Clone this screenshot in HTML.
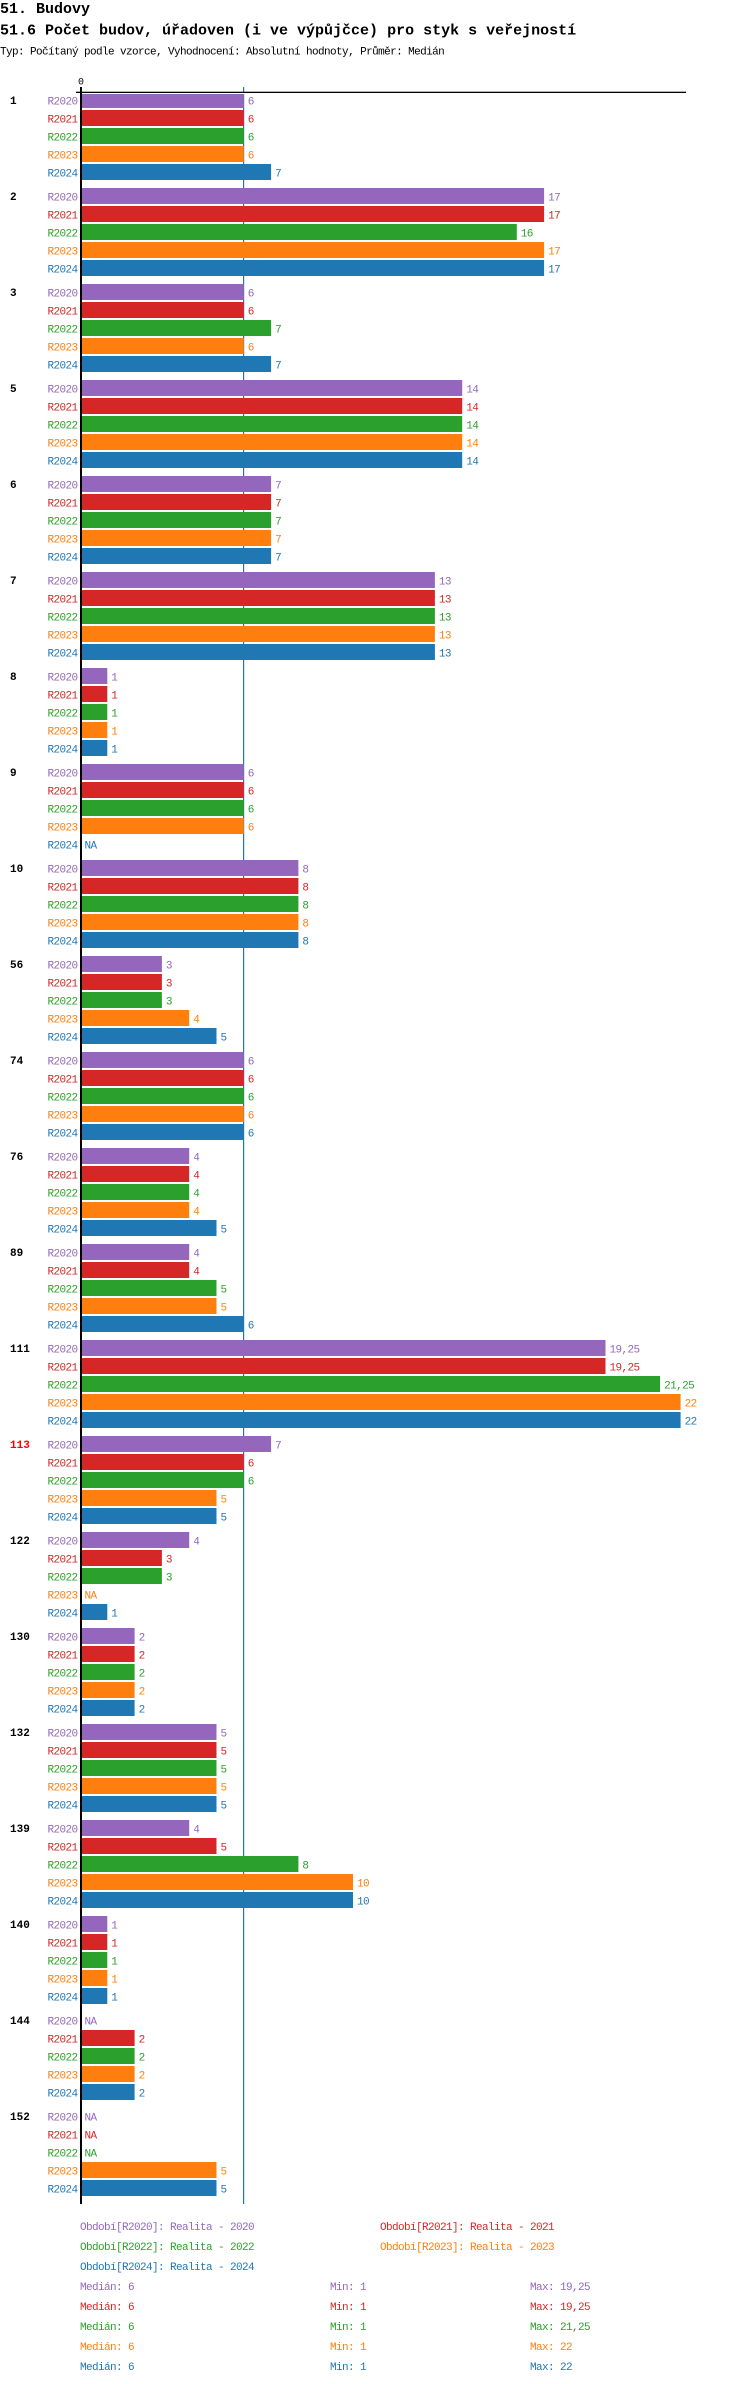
<!DOCTYPE html>
<html><head><meta charset="utf-8">
<style>
html,body{margin:0;padding:0;background:#fff;}
svg{display:block;}
text{font-family:"Liberation Mono",monospace;font-size:11px;letter-spacing:-0.6px;}
.h1{font-size:15px;font-weight:bold;letter-spacing:0;fill:#000;}
.sub{fill:#000;}
.g{font-weight:bold;font-size:11px;letter-spacing:0;fill:#000;}
.s{text-anchor:end;}
.p{fill:#9467bd}.r{fill:#d62728}.gr{fill:#2ca02c}.o{fill:#ff7f0e}.b{fill:#1f77b4}
</style></head><body>
<svg width="750" height="2384" xmlns="http://www.w3.org/2000/svg">
<text class="h1" x="0" y="13">51. Budovy</text>
<text class="h1" x="0" y="34.5">51.6 Počet budov, úřadoven (i ve výpůjčce) pro styk s veřejností</text>
<text class="sub" x="0" y="54.5">Typ: Počítaný podle vzorce, Vyhodnocení: Absolutní hodnoty, Průměr: Medián</text>
<text x="81" y="84.5" style="font-size:10px;text-anchor:middle;letter-spacing:0">0</text>
<rect x="243" y="87" width="1.2" height="2117" fill="#1f77b4"/>

<g transform="translate(0,92)">
<rect class="p" x="80" y="0" width="163.8" height="16"/><rect class="r" x="80" y="18" width="163.8" height="16"/><rect class="gr" x="80" y="36" width="163.8" height="16"/><rect class="o" x="80" y="54" width="163.8" height="16"/><rect class="b" x="80" y="72" width="191.1" height="16"/>
<text class="g" x="10" y="12">1</text>
<text class="s p" x="77.5" y="12.5">R2020</text><text class="s r" x="77.5" y="30.5">R2021</text><text class="s gr" x="77.5" y="48.5">R2022</text><text class="s o" x="77.5" y="66.5">R2023</text><text class="s b" x="77.5" y="84.5">R2024</text>
<text class="p" x="247.8" y="12.5">6</text><text class="r" x="247.8" y="30.5">6</text><text class="gr" x="247.8" y="48.5">6</text><text class="o" x="247.8" y="66.5">6</text><text class="b" x="275.1" y="84.5">7</text>
</g>
<rect x="81" y="92.5" width="620" height="1.5" fill="#fff"/>

<g transform="translate(0,188)">
<rect class="p" x="80" y="0" width="464.1" height="16"/><rect class="r" x="80" y="18" width="464.1" height="16"/><rect class="gr" x="80" y="36" width="436.8" height="16"/><rect class="o" x="80" y="54" width="464.1" height="16"/><rect class="b" x="80" y="72" width="464.1" height="16"/>
<text class="g" x="10" y="12">2</text>
<text class="s p" x="77.5" y="12.5">R2020</text><text class="s r" x="77.5" y="30.5">R2021</text><text class="s gr" x="77.5" y="48.5">R2022</text><text class="s o" x="77.5" y="66.5">R2023</text><text class="s b" x="77.5" y="84.5">R2024</text>
<text class="p" x="548.1" y="12.5">17</text><text class="r" x="548.1" y="30.5">17</text><text class="gr" x="520.8" y="48.5">16</text><text class="o" x="548.1" y="66.5">17</text><text class="b" x="548.1" y="84.5">17</text>
</g>

<g transform="translate(0,284)">
<rect class="p" x="80" y="0" width="163.8" height="16"/><rect class="r" x="80" y="18" width="163.8" height="16"/><rect class="gr" x="80" y="36" width="191.1" height="16"/><rect class="o" x="80" y="54" width="163.8" height="16"/><rect class="b" x="80" y="72" width="191.1" height="16"/>
<text class="g" x="10" y="12">3</text>
<text class="s p" x="77.5" y="12.5">R2020</text><text class="s r" x="77.5" y="30.5">R2021</text><text class="s gr" x="77.5" y="48.5">R2022</text><text class="s o" x="77.5" y="66.5">R2023</text><text class="s b" x="77.5" y="84.5">R2024</text>
<text class="p" x="247.8" y="12.5">6</text><text class="r" x="247.8" y="30.5">6</text><text class="gr" x="275.1" y="48.5">7</text><text class="o" x="247.8" y="66.5">6</text><text class="b" x="275.1" y="84.5">7</text>
</g>

<g transform="translate(0,380)">
<rect class="p" x="80" y="0" width="382.2" height="16"/><rect class="r" x="80" y="18" width="382.2" height="16"/><rect class="gr" x="80" y="36" width="382.2" height="16"/><rect class="o" x="80" y="54" width="382.2" height="16"/><rect class="b" x="80" y="72" width="382.2" height="16"/>
<text class="g" x="10" y="12">5</text>
<text class="s p" x="77.5" y="12.5">R2020</text><text class="s r" x="77.5" y="30.5">R2021</text><text class="s gr" x="77.5" y="48.5">R2022</text><text class="s o" x="77.5" y="66.5">R2023</text><text class="s b" x="77.5" y="84.5">R2024</text>
<text class="p" x="466.2" y="12.5">14</text><text class="r" x="466.2" y="30.5">14</text><text class="gr" x="466.2" y="48.5">14</text><text class="o" x="466.2" y="66.5">14</text><text class="b" x="466.2" y="84.5">14</text>
</g>

<g transform="translate(0,476)">
<rect class="p" x="80" y="0" width="191.1" height="16"/><rect class="r" x="80" y="18" width="191.1" height="16"/><rect class="gr" x="80" y="36" width="191.1" height="16"/><rect class="o" x="80" y="54" width="191.1" height="16"/><rect class="b" x="80" y="72" width="191.1" height="16"/>
<text class="g" x="10" y="12">6</text>
<text class="s p" x="77.5" y="12.5">R2020</text><text class="s r" x="77.5" y="30.5">R2021</text><text class="s gr" x="77.5" y="48.5">R2022</text><text class="s o" x="77.5" y="66.5">R2023</text><text class="s b" x="77.5" y="84.5">R2024</text>
<text class="p" x="275.1" y="12.5">7</text><text class="r" x="275.1" y="30.5">7</text><text class="gr" x="275.1" y="48.5">7</text><text class="o" x="275.1" y="66.5">7</text><text class="b" x="275.1" y="84.5">7</text>
</g>

<g transform="translate(0,572)">
<rect class="p" x="80" y="0" width="354.9" height="16"/><rect class="r" x="80" y="18" width="354.9" height="16"/><rect class="gr" x="80" y="36" width="354.9" height="16"/><rect class="o" x="80" y="54" width="354.9" height="16"/><rect class="b" x="80" y="72" width="354.9" height="16"/>
<text class="g" x="10" y="12">7</text>
<text class="s p" x="77.5" y="12.5">R2020</text><text class="s r" x="77.5" y="30.5">R2021</text><text class="s gr" x="77.5" y="48.5">R2022</text><text class="s o" x="77.5" y="66.5">R2023</text><text class="s b" x="77.5" y="84.5">R2024</text>
<text class="p" x="438.9" y="12.5">13</text><text class="r" x="438.9" y="30.5">13</text><text class="gr" x="438.9" y="48.5">13</text><text class="o" x="438.9" y="66.5">13</text><text class="b" x="438.9" y="84.5">13</text>
</g>

<g transform="translate(0,668)">
<rect class="p" x="80" y="0" width="27.3" height="16"/><rect class="r" x="80" y="18" width="27.3" height="16"/><rect class="gr" x="80" y="36" width="27.3" height="16"/><rect class="o" x="80" y="54" width="27.3" height="16"/><rect class="b" x="80" y="72" width="27.3" height="16"/>
<text class="g" x="10" y="12">8</text>
<text class="s p" x="77.5" y="12.5">R2020</text><text class="s r" x="77.5" y="30.5">R2021</text><text class="s gr" x="77.5" y="48.5">R2022</text><text class="s o" x="77.5" y="66.5">R2023</text><text class="s b" x="77.5" y="84.5">R2024</text>
<text class="p" x="111.3" y="12.5">1</text><text class="r" x="111.3" y="30.5">1</text><text class="gr" x="111.3" y="48.5">1</text><text class="o" x="111.3" y="66.5">1</text><text class="b" x="111.3" y="84.5">1</text>
</g>

<g transform="translate(0,764)">
<rect class="p" x="80" y="0" width="163.8" height="16"/><rect class="r" x="80" y="18" width="163.8" height="16"/><rect class="gr" x="80" y="36" width="163.8" height="16"/><rect class="o" x="80" y="54" width="163.8" height="16"/>
<text class="g" x="10" y="12">9</text>
<text class="s p" x="77.5" y="12.5">R2020</text><text class="s r" x="77.5" y="30.5">R2021</text><text class="s gr" x="77.5" y="48.5">R2022</text><text class="s o" x="77.5" y="66.5">R2023</text><text class="s b" x="77.5" y="84.5">R2024</text>
<text class="p" x="247.8" y="12.5">6</text><text class="r" x="247.8" y="30.5">6</text><text class="gr" x="247.8" y="48.5">6</text><text class="o" x="247.8" y="66.5">6</text><text class="b" x="84.5" y="84.5">NA</text>
</g>

<g transform="translate(0,860)">
<rect class="p" x="80" y="0" width="218.4" height="16"/><rect class="r" x="80" y="18" width="218.4" height="16"/><rect class="gr" x="80" y="36" width="218.4" height="16"/><rect class="o" x="80" y="54" width="218.4" height="16"/><rect class="b" x="80" y="72" width="218.4" height="16"/>
<text class="g" x="10" y="12">10</text>
<text class="s p" x="77.5" y="12.5">R2020</text><text class="s r" x="77.5" y="30.5">R2021</text><text class="s gr" x="77.5" y="48.5">R2022</text><text class="s o" x="77.5" y="66.5">R2023</text><text class="s b" x="77.5" y="84.5">R2024</text>
<text class="p" x="302.4" y="12.5">8</text><text class="r" x="302.4" y="30.5">8</text><text class="gr" x="302.4" y="48.5">8</text><text class="o" x="302.4" y="66.5">8</text><text class="b" x="302.4" y="84.5">8</text>
</g>

<g transform="translate(0,956)">
<rect class="p" x="80" y="0" width="81.9" height="16"/><rect class="r" x="80" y="18" width="81.9" height="16"/><rect class="gr" x="80" y="36" width="81.9" height="16"/><rect class="o" x="80" y="54" width="109.2" height="16"/><rect class="b" x="80" y="72" width="136.5" height="16"/>
<text class="g" x="10" y="12">56</text>
<text class="s p" x="77.5" y="12.5">R2020</text><text class="s r" x="77.5" y="30.5">R2021</text><text class="s gr" x="77.5" y="48.5">R2022</text><text class="s o" x="77.5" y="66.5">R2023</text><text class="s b" x="77.5" y="84.5">R2024</text>
<text class="p" x="165.9" y="12.5">3</text><text class="r" x="165.9" y="30.5">3</text><text class="gr" x="165.9" y="48.5">3</text><text class="o" x="193.2" y="66.5">4</text><text class="b" x="220.5" y="84.5">5</text>
</g>

<g transform="translate(0,1052)">
<rect class="p" x="80" y="0" width="163.8" height="16"/><rect class="r" x="80" y="18" width="163.8" height="16"/><rect class="gr" x="80" y="36" width="163.8" height="16"/><rect class="o" x="80" y="54" width="163.8" height="16"/><rect class="b" x="80" y="72" width="163.8" height="16"/>
<text class="g" x="10" y="12">74</text>
<text class="s p" x="77.5" y="12.5">R2020</text><text class="s r" x="77.5" y="30.5">R2021</text><text class="s gr" x="77.5" y="48.5">R2022</text><text class="s o" x="77.5" y="66.5">R2023</text><text class="s b" x="77.5" y="84.5">R2024</text>
<text class="p" x="247.8" y="12.5">6</text><text class="r" x="247.8" y="30.5">6</text><text class="gr" x="247.8" y="48.5">6</text><text class="o" x="247.8" y="66.5">6</text><text class="b" x="247.8" y="84.5">6</text>
</g>

<g transform="translate(0,1148)">
<rect class="p" x="80" y="0" width="109.2" height="16"/><rect class="r" x="80" y="18" width="109.2" height="16"/><rect class="gr" x="80" y="36" width="109.2" height="16"/><rect class="o" x="80" y="54" width="109.2" height="16"/><rect class="b" x="80" y="72" width="136.5" height="16"/>
<text class="g" x="10" y="12">76</text>
<text class="s p" x="77.5" y="12.5">R2020</text><text class="s r" x="77.5" y="30.5">R2021</text><text class="s gr" x="77.5" y="48.5">R2022</text><text class="s o" x="77.5" y="66.5">R2023</text><text class="s b" x="77.5" y="84.5">R2024</text>
<text class="p" x="193.2" y="12.5">4</text><text class="r" x="193.2" y="30.5">4</text><text class="gr" x="193.2" y="48.5">4</text><text class="o" x="193.2" y="66.5">4</text><text class="b" x="220.5" y="84.5">5</text>
</g>

<g transform="translate(0,1244)">
<rect class="p" x="80" y="0" width="109.2" height="16"/><rect class="r" x="80" y="18" width="109.2" height="16"/><rect class="gr" x="80" y="36" width="136.5" height="16"/><rect class="o" x="80" y="54" width="136.5" height="16"/><rect class="b" x="80" y="72" width="163.8" height="16"/>
<text class="g" x="10" y="12">89</text>
<text class="s p" x="77.5" y="12.5">R2020</text><text class="s r" x="77.5" y="30.5">R2021</text><text class="s gr" x="77.5" y="48.5">R2022</text><text class="s o" x="77.5" y="66.5">R2023</text><text class="s b" x="77.5" y="84.5">R2024</text>
<text class="p" x="193.2" y="12.5">4</text><text class="r" x="193.2" y="30.5">4</text><text class="gr" x="220.5" y="48.5">5</text><text class="o" x="220.5" y="66.5">5</text><text class="b" x="247.8" y="84.5">6</text>
</g>

<g transform="translate(0,1340)">
<rect class="p" x="80" y="0" width="525.5" height="16"/><rect class="r" x="80" y="18" width="525.5" height="16"/><rect class="gr" x="80" y="36" width="580.1" height="16"/><rect class="o" x="80" y="54" width="600.6" height="16"/><rect class="b" x="80" y="72" width="600.6" height="16"/>
<text class="g" x="10" y="12">111</text>
<text class="s p" x="77.5" y="12.5">R2020</text><text class="s r" x="77.5" y="30.5">R2021</text><text class="s gr" x="77.5" y="48.5">R2022</text><text class="s o" x="77.5" y="66.5">R2023</text><text class="s b" x="77.5" y="84.5">R2024</text>
<text class="p" x="609.5" y="12.5">19,25</text><text class="r" x="609.5" y="30.5">19,25</text><text class="gr" x="664.1" y="48.5">21,25</text><text class="o" x="684.6" y="66.5">22</text><text class="b" x="684.6" y="84.5">22</text>
</g>

<g transform="translate(0,1436)">
<rect class="p" x="80" y="0" width="191.1" height="16"/><rect class="r" x="80" y="18" width="163.8" height="16"/><rect class="gr" x="80" y="36" width="163.8" height="16"/><rect class="o" x="80" y="54" width="136.5" height="16"/><rect class="b" x="80" y="72" width="136.5" height="16"/>
<text class="g" x="10" y="12" style="fill:#ff0000">113</text>
<text class="s p" x="77.5" y="12.5">R2020</text><text class="s r" x="77.5" y="30.5">R2021</text><text class="s gr" x="77.5" y="48.5">R2022</text><text class="s o" x="77.5" y="66.5">R2023</text><text class="s b" x="77.5" y="84.5">R2024</text>
<text class="p" x="275.1" y="12.5">7</text><text class="r" x="247.8" y="30.5">6</text><text class="gr" x="247.8" y="48.5">6</text><text class="o" x="220.5" y="66.5">5</text><text class="b" x="220.5" y="84.5">5</text>
</g>

<g transform="translate(0,1532)">
<rect class="p" x="80" y="0" width="109.2" height="16"/><rect class="r" x="80" y="18" width="81.9" height="16"/><rect class="gr" x="80" y="36" width="81.9" height="16"/><rect class="b" x="80" y="72" width="27.3" height="16"/>
<text class="g" x="10" y="12">122</text>
<text class="s p" x="77.5" y="12.5">R2020</text><text class="s r" x="77.5" y="30.5">R2021</text><text class="s gr" x="77.5" y="48.5">R2022</text><text class="s o" x="77.5" y="66.5">R2023</text><text class="s b" x="77.5" y="84.5">R2024</text>
<text class="p" x="193.2" y="12.5">4</text><text class="r" x="165.9" y="30.5">3</text><text class="gr" x="165.9" y="48.5">3</text><text class="o" x="84.5" y="66.5">NA</text><text class="b" x="111.3" y="84.5">1</text>
</g>

<g transform="translate(0,1628)">
<rect class="p" x="80" y="0" width="54.6" height="16"/><rect class="r" x="80" y="18" width="54.6" height="16"/><rect class="gr" x="80" y="36" width="54.6" height="16"/><rect class="o" x="80" y="54" width="54.6" height="16"/><rect class="b" x="80" y="72" width="54.6" height="16"/>
<text class="g" x="10" y="12">130</text>
<text class="s p" x="77.5" y="12.5">R2020</text><text class="s r" x="77.5" y="30.5">R2021</text><text class="s gr" x="77.5" y="48.5">R2022</text><text class="s o" x="77.5" y="66.5">R2023</text><text class="s b" x="77.5" y="84.5">R2024</text>
<text class="p" x="138.6" y="12.5">2</text><text class="r" x="138.6" y="30.5">2</text><text class="gr" x="138.6" y="48.5">2</text><text class="o" x="138.6" y="66.5">2</text><text class="b" x="138.6" y="84.5">2</text>
</g>

<g transform="translate(0,1724)">
<rect class="p" x="80" y="0" width="136.5" height="16"/><rect class="r" x="80" y="18" width="136.5" height="16"/><rect class="gr" x="80" y="36" width="136.5" height="16"/><rect class="o" x="80" y="54" width="136.5" height="16"/><rect class="b" x="80" y="72" width="136.5" height="16"/>
<text class="g" x="10" y="12">132</text>
<text class="s p" x="77.5" y="12.5">R2020</text><text class="s r" x="77.5" y="30.5">R2021</text><text class="s gr" x="77.5" y="48.5">R2022</text><text class="s o" x="77.5" y="66.5">R2023</text><text class="s b" x="77.5" y="84.5">R2024</text>
<text class="p" x="220.5" y="12.5">5</text><text class="r" x="220.5" y="30.5">5</text><text class="gr" x="220.5" y="48.5">5</text><text class="o" x="220.5" y="66.5">5</text><text class="b" x="220.5" y="84.5">5</text>
</g>

<g transform="translate(0,1820)">
<rect class="p" x="80" y="0" width="109.2" height="16"/><rect class="r" x="80" y="18" width="136.5" height="16"/><rect class="gr" x="80" y="36" width="218.4" height="16"/><rect class="o" x="80" y="54" width="273" height="16"/><rect class="b" x="80" y="72" width="273" height="16"/>
<text class="g" x="10" y="12">139</text>
<text class="s p" x="77.5" y="12.5">R2020</text><text class="s r" x="77.5" y="30.5">R2021</text><text class="s gr" x="77.5" y="48.5">R2022</text><text class="s o" x="77.5" y="66.5">R2023</text><text class="s b" x="77.5" y="84.5">R2024</text>
<text class="p" x="193.2" y="12.5">4</text><text class="r" x="220.5" y="30.5">5</text><text class="gr" x="302.4" y="48.5">8</text><text class="o" x="357" y="66.5">10</text><text class="b" x="357" y="84.5">10</text>
</g>

<g transform="translate(0,1916)">
<rect class="p" x="80" y="0" width="27.3" height="16"/><rect class="r" x="80" y="18" width="27.3" height="16"/><rect class="gr" x="80" y="36" width="27.3" height="16"/><rect class="o" x="80" y="54" width="27.3" height="16"/><rect class="b" x="80" y="72" width="27.3" height="16"/>
<text class="g" x="10" y="12">140</text>
<text class="s p" x="77.5" y="12.5">R2020</text><text class="s r" x="77.5" y="30.5">R2021</text><text class="s gr" x="77.5" y="48.5">R2022</text><text class="s o" x="77.5" y="66.5">R2023</text><text class="s b" x="77.5" y="84.5">R2024</text>
<text class="p" x="111.3" y="12.5">1</text><text class="r" x="111.3" y="30.5">1</text><text class="gr" x="111.3" y="48.5">1</text><text class="o" x="111.3" y="66.5">1</text><text class="b" x="111.3" y="84.5">1</text>
</g>

<g transform="translate(0,2012)">
<rect class="r" x="80" y="18" width="54.6" height="16"/><rect class="gr" x="80" y="36" width="54.6" height="16"/><rect class="o" x="80" y="54" width="54.6" height="16"/><rect class="b" x="80" y="72" width="54.6" height="16"/>
<text class="g" x="10" y="12">144</text>
<text class="s p" x="77.5" y="12.5">R2020</text><text class="s r" x="77.5" y="30.5">R2021</text><text class="s gr" x="77.5" y="48.5">R2022</text><text class="s o" x="77.5" y="66.5">R2023</text><text class="s b" x="77.5" y="84.5">R2024</text>
<text class="p" x="84.5" y="12.5">NA</text><text class="r" x="138.6" y="30.5">2</text><text class="gr" x="138.6" y="48.5">2</text><text class="o" x="138.6" y="66.5">2</text><text class="b" x="138.6" y="84.5">2</text>
</g>

<g transform="translate(0,2108)">
<rect class="o" x="80" y="54" width="136.5" height="16"/><rect class="b" x="80" y="72" width="136.5" height="16"/>
<text class="g" x="10" y="12">152</text>
<text class="s p" x="77.5" y="12.5">R2020</text><text class="s r" x="77.5" y="30.5">R2021</text><text class="s gr" x="77.5" y="48.5">R2022</text><text class="s o" x="77.5" y="66.5">R2023</text><text class="s b" x="77.5" y="84.5">R2024</text>
<text class="p" x="84.5" y="12.5">NA</text><text class="r" x="84.5" y="30.5">NA</text><text class="gr" x="84.5" y="48.5">NA</text><text class="o" x="220.5" y="66.5">5</text><text class="b" x="220.5" y="84.5">5</text>
</g>

<rect x="76" y="91.7" width="610" height="1.3" fill="#000"/>
<rect x="80" y="87" width="2" height="2117" fill="#000"/>

<text class="p" x="80" y="2230">Období[R2020]: Realita - 2020</text>
<text class="r" x="380" y="2230">Období[R2021]: Realita - 2021</text>
<text class="gr" x="80" y="2250">Období[R2022]: Realita - 2022</text>
<text class="o" x="380" y="2250">Období[R2023]: Realita - 2023</text>
<text class="b" x="80" y="2270">Období[R2024]: Realita - 2024</text>

<text class="p" x="80" y="2290">Medián: 6</text><text class="p" x="330" y="2290">Min: 1</text><text class="p" x="530" y="2290">Max: 19,25</text>
<text class="r" x="80" y="2310">Medián: 6</text><text class="r" x="330" y="2310">Min: 1</text><text class="r" x="530" y="2310">Max: 19,25</text>
<text class="gr" x="80" y="2330">Medián: 6</text><text class="gr" x="330" y="2330">Min: 1</text><text class="gr" x="530" y="2330">Max: 21,25</text>
<text class="o" x="80" y="2350">Medián: 6</text><text class="o" x="330" y="2350">Min: 1</text><text class="o" x="530" y="2350">Max: 22</text>
<text class="b" x="80" y="2370">Medián: 6</text><text class="b" x="330" y="2370">Min: 1</text><text class="b" x="530" y="2370">Max: 22</text>
</svg>
</body></html>
